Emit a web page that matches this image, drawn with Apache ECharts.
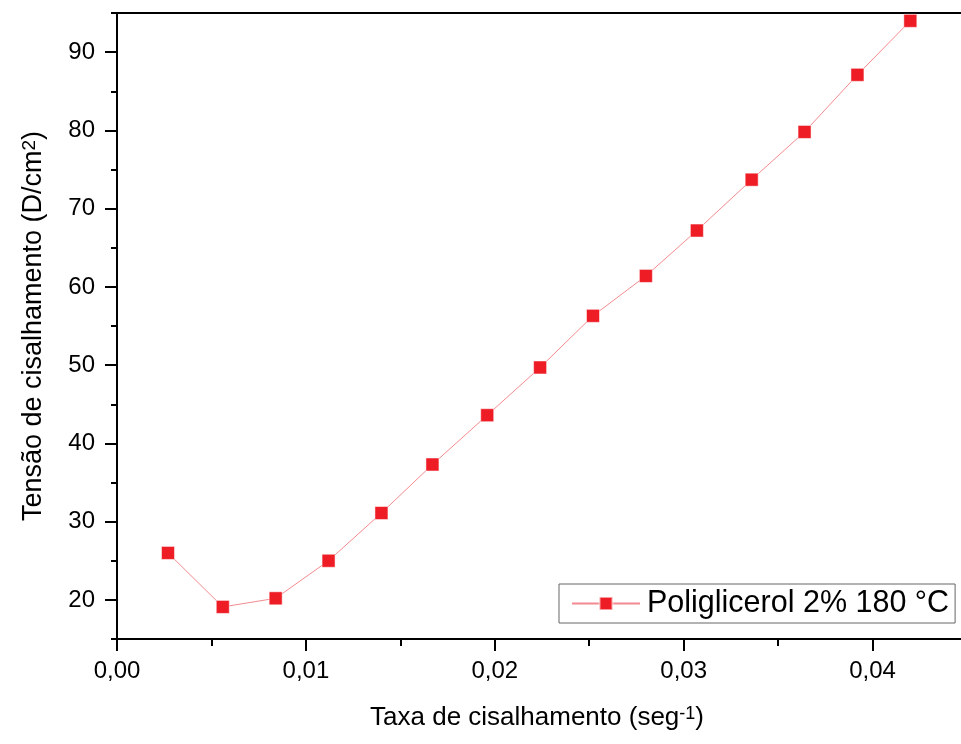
<!DOCTYPE html>
<html>
<head>
<meta charset="utf-8">
<title>Tensão de cisalhamento</title>
<script src="https://cdn.jsdelivr.net/npm/echarts@6/dist/echarts.min.js"></script>
<style>
    html, body {margin: 0; padding: 0; background: #fff;}
    #chart {width: 961px; height: 744px;}
</style>
</head>
<body>
<div id="chart"></div>
<script type="text/javascript">
    // valores
    var taxa = [0.0027, 0.0056, 0.0084, 0.0112, 0.0140, 0.0167, 0.0196, 0.0224,
        0.0252, 0.0280, 0.0307, 0.0336, 0.0364, 0.0392, 0.0420];
    var tensao = [26.0, 19.1, 20.2, 25.0, 31.1, 37.3, 43.6, 49.7,
        56.3, 61.4, 67.2, 73.7, 79.8, 87.1, 94.0];
    var yMajor = [20, 30, 40, 50, 60, 70, 80, 90];
    var nomeSerie = 'Poliglicerol 2% 180 °C';

    var pontos = [];
    for (var i = 0; i < taxa.length; i++) {
        pontos.push([taxa[i], tensao[i]]);
    }

    var FONT = "'Liberation Sans', Arial, sans-serif";
    var chart = echarts.init(document.getElementById('chart'));
    var option = {
        animation: false,
        textStyle: {fontFamily: FONT, color: '#000'},
        grid: {left: 117, top: 13, width: 850, height: 626, outerBoundsMode: 'none', containLabel: false},
        legend: {
            left: 559,
            top: 584,
            padding: [4, 6, 4, 12],
            borderColor: '#666',
            borderWidth: 1,
            itemWidth: 68,
            itemHeight: 16,
            itemGap: 0,
            textStyle: {fontFamily: FONT, fontSize: 30.5, color: '#000', lineHeight: 30, padding: [0, 0, 0, 2]},
            data: [nomeSerie]
        },
        xAxis: [
            {
                type: 'value',
                min: 0,
                max: 0.045,
                interval: 0.01,
                name: 'Taxa de cisalhamento (seg{sup|-1})',
                nameLocation: 'middle',
                nameGap: 66,
                nameTextStyle: {
                    fontFamily: FONT, fontSize: 26, color: '#000', padding: [0, 10, 0, 0],
                    rich: {sup: {fontFamily: FONT, fontSize: 18, verticalAlign: 'top', lineHeight: 10}}
                },
                splitLine: {show: false},
                axisLine: {onZero: false, lineStyle: {color: '#000', width: 2}},
                axisTick: {show: true, length: 12, inside: false, lineStyle: {color: '#000', width: 2}},
                minorTick: {show: true, splitNumber: 2, length: 7, lineStyle: {color: '#000', width: 2}},
                axisLabel: {
                    fontFamily: FONT, fontSize: 24, color: '#000', margin: 20, showMaxLabel: false,
                    formatter: function (v) {
                        return v.toFixed(2).replace('.', ',');
                    }
                }
            },
            {
                type: 'value',
                position: 'top',
                min: 0,
                max: 0.045,
                axisLine: {onZero: false, lineStyle: {color: '#000', width: 2}},
                axisTick: {show: false},
                axisLabel: {show: false},
                splitLine: {show: false}
            }
        ],
        yAxis: [
            {
                type: 'value',
                min: 15,
                max: 95,
                interval: 5,
                name: 'Tensão de cisalhamento (D/cm{sup|2})',
                nameLocation: 'middle',
                nameRotate: 90,
                nameGap: 70,
                nameTextStyle: {
                    fontFamily: FONT, fontSize: 27, color: '#000',
                    rich: {sup: {fontFamily: FONT, fontSize: 19, verticalAlign: 'top', lineHeight: 10}}
                },
                splitLine: {show: false},
                axisLine: {onZero: false, lineStyle: {color: '#000', width: 2}},
                axisTick: {show: true, length: 12, customValues: yMajor, lineStyle: {color: '#000', width: 2}},
                axisLabel: {fontFamily: FONT, fontSize: 24, color: '#000', margin: 22, customValues: yMajor}
            },
            {
                // ticks menores da escala vertical
                type: 'value',
                position: 'left',
                min: 15,
                max: 95,
                interval: 5,
                splitLine: {show: false},
                axisLine: {show: false},
                axisTick: {show: true, length: 6, lineStyle: {color: '#000', width: 2}},
                axisLabel: {show: false}
            }
        ],
        series: [
            {
                name: nomeSerie,
                type: 'line',
                data: pontos,
                symbol: 'rect',
                symbolSize: 13,
                itemStyle: {color: '#ee1c25', borderColor: 'rgba(255,255,255,0.5)', borderWidth: 1},
                lineStyle: {color: '#f38a8f', width: 1}
            }
        ]
    };
    chart.setOption(option);
</script>
</body>
</html>
